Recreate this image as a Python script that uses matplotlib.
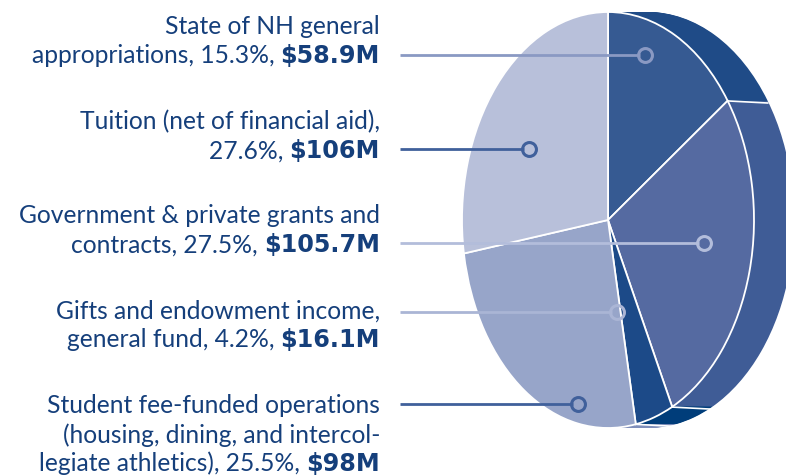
import numpy as np
import matplotlib.pyplot as plt

# revenue sources, in the order they go round the pie (clockwise from 12 o'clock)
names = ["State of NH general appropriations",
         "Government & private grants and contracts",
         "Gifts and endowment income, general fund",
         "Student fee-funded operations",
         "Tuition (net of financial aid)"]
shares = [15.3, 27.5, 4.2, 25.5, 27.6]
face_colors = ["#365a92", "#556aa1", "#1c4a88", "#97a5c9", "#b8c0da"]
rim_colors = ["#1f4b87", "#3f5c96", "#003d7a", "#7f8fbb", "#a3aed0"]

# label blocks: lines of regular text, then the bold amount, top to bottom
label_lines = [
    ["State of NH general", "appropriations, 15.3%, "],
    ["Tuition (net of financial aid),", "27.6%, "],
    ["Government & private grants and", "contracts, 27.5%, "],
    ["Gifts and endowment income,", "general fund, 4.2%, "],
    ["Student fee-funded operations", "(housing, dining, and intercol-", "legiate athletics), 25.5%, "],
]
label_amounts = ["$58.9M", "$106M", "$105.7M", "$16.1M", "$98M"]
label_first_y = [27, 122, 216, 311, 406]

# leader lines: y of line, x of marker, colour
leader_y = [56, 150, 244, 313, 405]
leader_x = [645, 529, 704, 617, 578]
leader_colors = ["#8a99c3", "#40609b", "#b3bddb", "#aab5d5", "#40609b"]

text_color = "#153f7b"
W, H = 786, 477
cx, cy = 608, 221      # centre of the pie face, pixels
rx, ry = 146, 208      # semi axes of the face ellipse, pixels
depth = 40             # thickness of the disc, pixels

fig = plt.figure(figsize=(W / 100, H / 100), dpi=100)
ax = fig.add_axes([0, 0, 1, 1])


def px(x):
    return (x - cx) / rx


def py(y):
    return (cy - y) / ry


# side of the disc: sweep the pie from the back to the front
for off in np.linspace(depth / rx, 0, 40):
    ax.pie(shares, colors=rim_colors, startangle=90, counterclock=False,
           center=(off, 0), radius=1.0, wedgeprops=dict(linewidth=0), frame=True)

# white seams on the side where slices meet
cum = np.cumsum([0] + shares[:-1])
for c in cum:
    t = np.deg2rad(90 - 360 * c / 100)
    if np.cos(t) > 0.02:
        ax.plot([np.cos(t), np.cos(t) + depth / rx], [np.sin(t), np.sin(t) - 0.01],
                color="white", lw=1.2, zorder=3)

# face of the disc
wedges, _ = ax.pie(shares, colors=face_colors, startangle=90, counterclock=False,
                   center=(0, 0), radius=1.0,
                   wedgeprops=dict(edgecolor="white", linewidth=1.3), frame=True)
for w in wedges:
    w.set_zorder(4)

# leader lines with open circle ends
for y, x, col in zip(leader_y, leader_x, leader_colors):
    ax.plot([px(400), px(x - 5)], [py(y), py(y)], color=col, lw=2, zorder=5,
            solid_capstyle="butt")
    ax.plot([px(x)], [py(y)], marker="o", ms=10, mfc="none", mec=col, mew=2.2, zorder=6)

ax.set_aspect("auto")
ax.set_xlim(px(0), px(W))
ax.set_ylim(py(H), py(0))
ax.axis("off")

# labels, right aligned, amount in heavy type
fig.canvas.draw()
renderer = fig.canvas.get_renderer()
right = px(380)
line_h = 28.8
fs = 17.7
for lines, amount, y0 in zip(label_lines, label_amounts, label_first_y):
    for i, line in enumerate(lines):
        y = py(y0 + i * line_h)
        if i == len(lines) - 1:
            b = ax.text(right, y, amount.replace("$", r"\$"), ha="right", va="center",
                        fontsize=fs - 0.5, family="DejaVu Sans", fontweight="bold",
                        color=text_color)
            bb = b.get_window_extent(renderer)
            x_end = px(bb.x0)
            ax.text(x_end, y, line, ha="right", va="center", fontsize=fs,
                    family="Lato", color=text_color)
        else:
            ax.text(right, y, line, ha="right", va="center", fontsize=fs,
                    family="Lato", color=text_color)

fig.savefig("out.png", dpi=100)
